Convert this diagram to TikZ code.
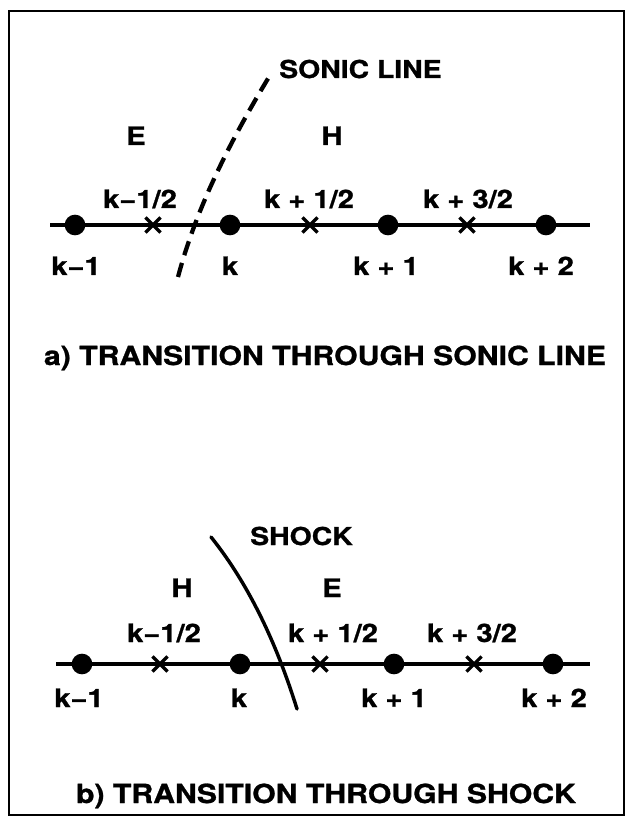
\documentclass[tikz,border=0pt]{standalone}
\usepackage{fontspec}
\setmainfont{TeX Gyre Heros}[FakeStretch=1.15,BoldFeatures={FakeBold=1}]
\usetikzlibrary{shapes.misc}

\begin{document}
\begin{tikzpicture}[x=0.75pt,y=-0.75pt,
  lbl/.style={font=\fontsize{19}{21}\selectfont\bfseries,inner sep=0pt,anchor=base},
  tag/.style={font=\fontsize{18.5}{21}\selectfont\bfseries,inner sep=0pt,anchor=base west},
  captxt/.style={font=\fontsize{19.7}{22}\selectfont\bfseries,inner sep=0pt,anchor=base},
  gridpt/.style={circle,fill,inner sep=0pt,minimum size=15.5pt},
  halfpt/.style={cross out,draw,line width=2.4pt,inner sep=0pt,minimum size=9pt},
  axis/.style={line width=2.6pt}]
  \useasboundingbox (0,0) rectangle (627,816);
  \draw[line width=1.6pt] (9,11) rectangle (624,815);

  % a) transition through sonic line
  \coordinate (a-start) at (50,225);
  \coordinate (a-end) at (590,225);
  \draw[axis] (a-start) -- (a-end);
  \node[gridpt] (a-km1) at (75,225) {};
  \node[gridpt] (a-k) at (230,225) {};
  \node[gridpt] (a-kp1) at (388,225) {};
  \node[gridpt] (a-kp2) at (546,225) {};
  \node[halfpt] (a-kmh) at (153,225) {};
  \node[halfpt] (a-kph) at (310,225) {};
  \node[halfpt] (a-kp3h) at (467,225) {};
  \node[lbl] (la-km1) at (76,275) {k−1};
  \node[lbl] (la-k) at (230,275) {k};
  \node[lbl] (la-kp1) at (386,275) {k + 1};
  \node[lbl] (la-kp2) at (541,275) {k + 2};
  \node[lbl] (la-kmh) at (140,208) {k−1/2};
  \node[lbl] (la-kph) at (309,208) {k + 1/2};
  \node[lbl] (la-kp3h) at (468,208) {k + 3/2};
  \node[lbl] (a-E) at (136,145) {E};
  \node[lbl] (a-H) at (332,145) {H};
  \coordinate (sonic-bot) at (178,277);
  \coordinate (sonic-top) at (272,72);
  \draw[line width=3.2pt,dash pattern=on 11pt off 6pt]
    (sonic-bot) .. controls (197,205) and (233,136) .. (sonic-top);
  \node[tag] (sonic) at (279,78) {SONIC LINE};
  \node[captxt] (cap-a) at (325,365) {a) TRANSITION THROUGH SONIC LINE};

  % b) transition through shock
  \coordinate (b-start) at (56,664);
  \coordinate (b-end) at (590,664);
  \draw[axis] (b-start) -- (b-end);
  \node[gridpt] (b-km1) at (82,664) {};
  \node[gridpt] (b-k) at (240,664) {};
  \node[gridpt] (b-kp1) at (394,664) {};
  \node[gridpt] (b-kp2) at (553,664) {};
  \node[halfpt] (b-kmh) at (160,664) {};
  \node[halfpt] (b-kph) at (320,664) {};
  \node[halfpt] (b-kp3h) at (474,664) {};
  \node[lbl] (lb-km1) at (79,707) {k−1};
  \node[lbl] (lb-k) at (239,707) {k};
  \node[lbl] (lb-kp1) at (394,707) {k + 1};
  \node[lbl] (lb-kp2) at (554,707) {k + 2};
  \node[lbl] (lb-kmh) at (164,642) {k−1/2};
  \node[lbl] (lb-kph) at (333,642) {k + 1/2};
  \node[lbl] (lb-kp3h) at (472,642) {k + 3/2};
  \node[lbl] (b-H) at (182,597) {H};
  \node[lbl] (b-E) at (332,597) {E};
  \coordinate (shock-top) at (211,537);
  \coordinate (shock-bot) at (297,709);
  \draw[line width=2.6pt,line cap=round]
    (shock-top) .. controls (251,587) and (278,648) .. (shock-bot);
  \node[tag] (shock) at (250,545) {SHOCK};
  \node[captxt] (cap-b) at (326,803) {b) TRANSITION THROUGH SHOCK};
\end{tikzpicture}
\end{document}
